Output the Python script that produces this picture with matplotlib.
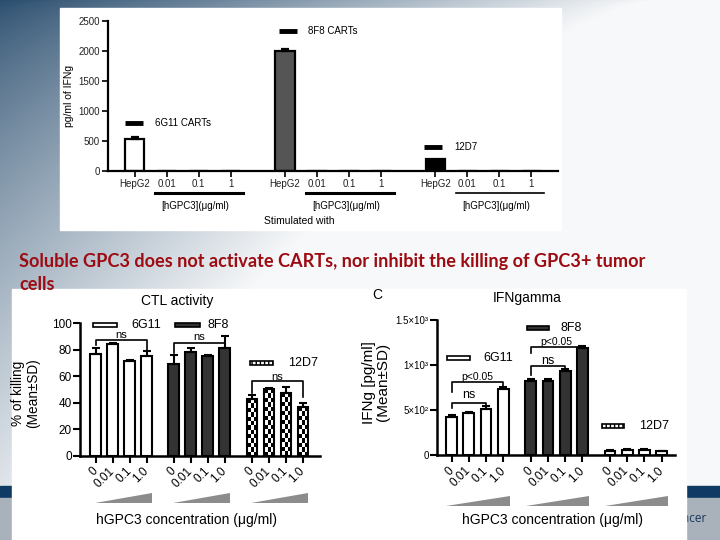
import numpy as np
import matplotlib
matplotlib.use("Agg")
import matplotlib.pyplot as plt
from matplotlib.patches import Rectangle

plt.rcParams['font.family'] = ['Liberation Sans', 'DejaVu Sans']

W, H = 720, 540

# ---- data ----
top_cats = ['HepG2', '0.01', '0.1', '1']
top_groups = ['6G11 CARTs', '8F8 CARTs', '12D7']
top_6g11 = [530, 0, 0, 0]
top_8f8 = [2000, 0, 0, 0]
top_12d7 = [200, 0, 0, 0]
top_err = [[25, 0, 0, 0], [20, 0, 0, 0], [0, 0, 0, 0]]

conc_labels = ['0', '0.01', '0.1', '1.0']
clones = ['6G11', '8F8', '12D7']
ctl_mean = [[77, 84, 71.5, 75.5], [69, 78, 75.5, 81], [43, 50, 47, 37]]
ctl_sd = [[4.5, 1, 1, 3.5], [7, 3, 0.5, 9.5], [3, 1, 5, 3]]
ifn_mean = [[425, 470, 515, 730], [825, 825, 935, 1190], [45, 60, 55, 40]]
ifn_sd = [[20, 10, 25, 25], [15, 25, 20, 25], [10, 10, 10, 8]]


def rect(x0, y0, x1, y1):
    # pixel box -> figure fraction
    return [x0 / W, 1 - y1 / H, (x1 - x0) / W, (y1 - y0) / H]


def positions(gap):
    out = []
    for g in range(3):
        base = g * (3 + gap)
        out.append([base + i for i in range(4)])
    return out


def checker(ax, x, w, h, px_per_unit, cell=4.4, cols=3):
    rows = max(1, int(round(h * px_per_unit / cell)))
    arr = np.indices((rows, cols)).sum(0) % 2
    ax.imshow(arr, cmap='gray', vmin=0, vmax=1, extent=(x - w / 2, x + w / 2, 0, h),
              interpolation='nearest', aspect='auto', zorder=2)


def bracket(ax, x0, x1, y, e0, e1, label, ty, fs):
    ax.plot([x0, x0, x1, x1], [e0, y, y, e1], color='k', lw=1.2, clip_on=False, zorder=4)
    ax.text((x0 + x1) / 2, ty, label, ha='center', va='center', fontsize=fs, zorder=4)


fig = plt.figure(figsize=(7.2, 5.4), dpi=100)

# ---- slide background ----
bg = fig.add_axes([0, 0, 1, 1])
bg.set_xlim(0, W)
bg.set_ylim(H, 0)
bg.axis('off')
xx, yy = np.meshgrid(np.arange(W) / W, np.arange(H) / H)
s = np.clip(1.1 * xx + 0.95 * yy ** 0.7, 0, 1)[..., None]
dark = np.array([0.16, 0.30, 0.43])
img = dark * (1 - s) + np.array([0.97, 0.975, 0.98]) * s
bg.imshow(img, extent=(0, W, H, 0), aspect='auto', zorder=0)
bg.add_patch(Rectangle((0, 486), W, 12, color='#0e3a63', zorder=1))
bg.add_patch(Rectangle((0, 498), W, 42, color='#a9b2bb', zorder=1))
bg.text(707, 519, 'Cancer', ha='right', va='center', fontsize=8.5, color='#17385a',
        family=['Open Sans', 'DejaVu Sans'], zorder=2)
bg.add_patch(Rectangle((60, 8), 501, 222, color='white', zorder=3))
bg.add_patch(Rectangle((12, 289), 674, 251, color='white', zorder=3))

# ---- top chart: pg/ml of IFNg ----
ax = fig.add_axes(rect(108, 20.7, 558, 170.7))
ax.patch.set_visible(False)
pos = positions(1.7)
faces = ['white', '#555555', 'black']
vals = [top_6g11, top_8f8, top_12d7]
for g in range(3):
    ax.bar(pos[g], vals[g], width=0.6, color=faces[g], edgecolor='black', lw=1.6, zorder=2)
    e = top_err[g]
    for xi, v, ei in zip(pos[g], vals[g], e):
        if ei > 0:
            ax.errorbar(xi, v, yerr=[[0], [ei]], fmt='none', ecolor='black',
                        elinewidth=1.6, capsize=3, capthick=1.6, zorder=3)
ax.set_xlim(-0.83, 13.23)
ax.set_ylim(0, 2500)
ax.set_yticks([0, 500, 1000, 1500, 2000, 2500])
ax.set_xticks([p for grp in pos for p in grp])
ax.set_xticklabels(top_cats * 3)
for sp in ['top', 'right']:
    ax.spines[sp].set_visible(False)
for sp in ['left', 'bottom']:
    ax.spines[sp].set_linewidth(1.6)
ax.tick_params(direction='out', length=4, width=1.4, labelsize=7, pad=2, colors='#222222')
ax.set_ylabel('pg/ml of IFNg', fontsize=7.5, labelpad=3)
tr = ax.get_xaxis_transform()
for g in range(3):
    ax.plot([pos[g][1] - 0.35, pos[g][3] + 0.4], [-0.149, -0.149], color='k',
            lw=2.2 if g < 2 else 1.2, transform=tr, clip_on=False)
    ax.text(pos[g][2] - 0.1, -0.235, '[hGPC3](\u03bcg/ml)', transform=tr, ha='center',
            va='center', fontsize=7)
ax.text(pos[1][1] - 0.55, -0.335, 'Stimulated with', transform=tr, ha='center',
        va='center', fontsize=7.5)
leg_top = [(-0.3, 0.27, 795, 0.64), (4.52, 5.08, 2328, 5.42), (9.05, 9.6, 395, 10.0)]
for (x0, x1, y, tx), name in zip(leg_top, top_groups):
    ax.plot([x0, x1], [y, y], color='k', lw=3.5, solid_capstyle='butt', clip_on=False)
    ax.text(tx, y, name, va='center', fontsize=7)


def lower_chart(box, gap, means, sds, ylim, yticks, yticklabels, px_unit, face_list):
    a = fig.add_axes(rect(*box))
    a.patch.set_visible(False)
    p = positions(gap)
    for g in range(3):
        if face_list[g] == 'checker':
            for xi, v in zip(p[g], means[g]):
                checker(a, xi, 0.63, v, px_unit)
            a.bar(p[g], means[g], width=0.63, fill=False, edgecolor='black', lw=1.5, zorder=3)
        else:
            a.bar(p[g], means[g], width=0.63, color=face_list[g], edgecolor='black',
                  lw=1.5, zorder=2)
        a.errorbar(p[g], means[g], yerr=[np.zeros(4), sds[g]], fmt='none', ecolor='black',
                   elinewidth=1.5, capsize=3, capthick=1.5, zorder=3, clip_on=False)
    a.set_ylim(*ylim)
    a.set_yticks(yticks)
    a.set_yticklabels(yticklabels)
    a.set_xticks([q for grp in p for q in grp])
    a.set_xticklabels(conc_labels * 3, rotation=45, ha='right', va='center',
                      rotation_mode='anchor')
    for sp in ['top', 'right']:
        a.spines[sp].set_visible(False)
    for sp in ['left', 'bottom']:
        a.spines[sp].set_linewidth(1.8)
    a.tick_params(axis='x', direction='out', length=5, width=1.5, labelsize=8.5, pad=5)
    a.tick_params(axis='y', direction='out', length=5, width=1.5, pad=1)
    return a, p


# ---- CTL activity ----
ctl, p = lower_chart((80, 323.3, 320, 455.5), 1.6, ctl_mean, ctl_sd, (0, 100),
                     [0, 20, 40, 60, 80, 100], ['0', '20', '40', '60', '80', '100'],
                     132.2 / 100, ['white', '#333333', 'checker'])
ctl.tick_params(axis='y', labelsize=8.5)
ctl.set_xlim(-0.92, 13.2)
tr = ctl.get_xaxis_transform()
for g in range(3):
    x0, x1 = p[g][0] - 0.05, p[g][3] + 0.3
    ctl.fill([x0, x1, x1], [-0.359, -0.359, -0.284], color='#8c8c8c', transform=tr,
             clip_on=False, lw=0)
ctl.text(0.445, -0.488, 'hGPC3 concentration (\u03bcg/ml)', transform=ctl.transAxes,
         ha='center', va='center', fontsize=10)
ctl.text(0.403, 1.171, 'CTL activity', transform=ctl.transAxes, ha='center', va='center',
         fontsize=10)
ctl.text(-0.227, 0.473, '% of killing\n(Mean\u00b1SD)', transform=ctl.transAxes,
         rotation=90, ha='center', va='center', fontsize=9.8, linespacing=1.1)
bracket(ctl, p[0][0], p[0][3], 87.5, 83.5, 80, 'ns', 91, 8)
bracket(ctl, p[1][0], p[1][3], 85.3, 77.3, 85.3, 'ns', 89.4, 8)
bracket(ctl, p[2][0], p[2][3], 56.4, 47, 44, 'ns', 59.5, 8)
ctl_leg = [(-0.18, 1.24, 99, 2.08, 'white'), (4.66, 6.14, 99, 6.6, '#333333'),
           (9.08, 10.43, 70.2, 11.3, 'checker')]
for (x0, x1, y, tx, fc), name in zip(ctl_leg, clones):
    if fc == 'checker':
        ctl.add_patch(Rectangle((x0, y - 1.6), x1 - x0, 3.2, facecolor='white',
                                edgecolor='k', lw=1.2, hatch='||||', clip_on=False, zorder=4))
    else:
        ctl.add_patch(Rectangle((x0, y - 1.6), x1 - x0, 3.2, facecolor=fc,
                                edgecolor='k', lw=1.2, clip_on=False, zorder=4))
    ctl.text(tx, y, name, va='center', fontsize=9, zorder=4)

# ---- IFNgamma ----
ifn, p = lower_chart((437, 320, 675, 455), 1.6, ifn_mean, ifn_sd, (0, 1500),
                     [0, 500, 1000, 1500],
                     ['0', '5\u00d710\u00b2', '1\u00d710\u00b3', '1.5\u00d710\u00b3'],
                     135 / 1500, ['white', '#333333', 'white'])
ifn.tick_params(axis='y', labelsize=7)
ifn.set_xlim(-0.85, 12.98)
tr = ifn.get_xaxis_transform()
for g in range(3):
    x0, x1 = p[g][0] - 0.3, p[g][3] + 0.4
    ifn.fill([x0, x1, x1], [-0.378, -0.378, -0.304], color='#8c8c8c', transform=tr,
             clip_on=False, lw=0)
ifn.text(0.487, -0.481, 'hGPC3 concentration (\u03bcg/ml)', transform=ifn.transAxes,
         ha='center', va='center', fontsize=10)
ifn.text(0.381, 1.163, 'IFNgamma', transform=ifn.transAxes, ha='center', va='center',
         fontsize=10)
ifn.text(-0.253, 1.185, 'C', transform=ifn.transAxes, ha='center', va='center', fontsize=10)
ifn.text(-0.256, 0.54, 'IFNg [pg/ml]\n(Mean\u00b1SD)', transform=ifn.transAxes,
         rotation=90, ha='center', va='center', fontsize=11, linespacing=1.0)
bracket(ifn, p[0][0], p[0][2], 578, 520, 540, 'ns', 667, 9)
bracket(ifn, p[0][0], p[0][3], 815, 703, 755, 'p<0.05', 870, 7.5)
bracket(ifn, p[1][0], p[1][2], 992, 889, 944, 'ns', 1044, 9)
bracket(ifn, p[1][0], p[1][3], 1203, 1130, 1203, 'p<0.05', 1259, 7.5)
ifn_leg = [(-0.29, 1.06, 1081, 1.84, 'white'), (4.4, 5.67, 1408, 6.3, '#333333'),
           (8.72, 10.03, 326, 10.9, 'checker')]
for (x0, x1, y, tx, fc), name in zip(ifn_leg, clones):
    if fc == 'checker':
        ifn.add_patch(Rectangle((x0, y - 22), x1 - x0, 44, facecolor='white',
                                edgecolor='k', lw=1.2, hatch='||||', clip_on=False, zorder=4))
    else:
        ifn.add_patch(Rectangle((x0, y - 22), x1 - x0, 44, facecolor=fc,
                                edgecolor='k', lw=1.2, clip_on=False, zorder=4))
    ifn.text(tx, y, name, va='center', fontsize=9, zorder=4)

# ---- slide title ----
fig.text(19 / W, 1 - 261.7 / H,
         'Soluble GPC3 does not activate CARTs, nor inhibit the killing of GPC3+ tumor',
         color='#9c0c12', fontsize=13.1, fontweight='bold', family=['Lato', 'DejaVu Sans'],
         va='center', ha='left')
fig.text(19 / W, 1 - 284.5 / H, 'cells', color='#9c0c12', fontsize=13.1, fontweight='bold',
         family=['Lato', 'DejaVu Sans'], va='center', ha='left')

fig.savefig('out.png', dpi=100)
